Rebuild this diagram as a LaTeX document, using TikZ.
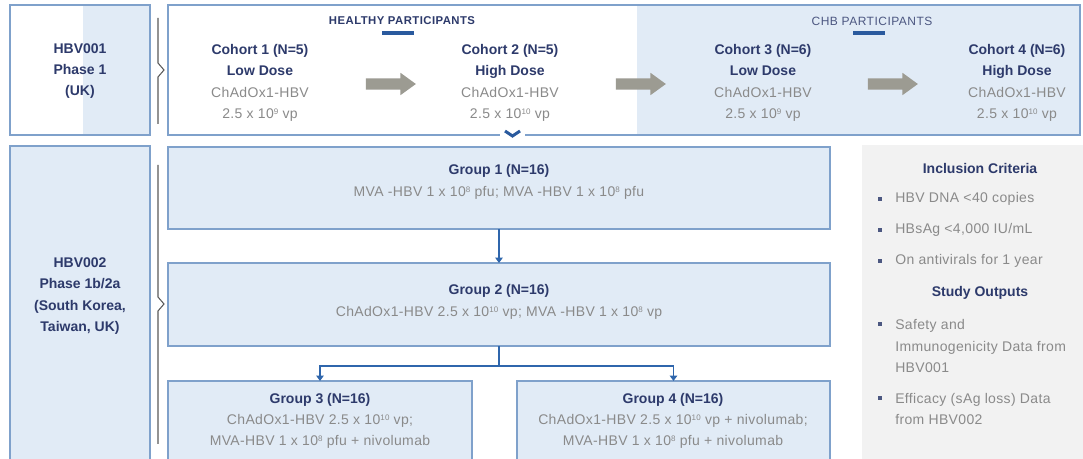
\documentclass[tikz,border=0pt]{standalone}
\usepackage{fontspec}
\setmainfont{Liberation Sans}
\newfontfamily\grayf[LetterSpace=2.5]{Liberation Sans}
\newfontfamily\capsf[LetterSpace=4]{Liberation Sans}
\usetikzlibrary{shapes.arrows,arrows.meta,calc}
\definecolor{navy}{HTML}{2D3A6B}
\definecolor{grayt}{HTML}{8A8A8A}
\definecolor{lb}{HTML}{E1EBF6}
\definecolor{bord}{HTML}{7FA1CB}
\definecolor{conn}{HTML}{2F66AC}
\definecolor{chev}{HTML}{2A5A9E}
\definecolor{arrg}{HTML}{9C9B92}
\definecolor{panel}{HTML}{F2F2F2}
\definecolor{brk}{HTML}{5A5A5A}
\newcommand\hdr[1]{{\bfseries\color{navy}#1}}
\newcommand\grt[1]{{\grayf #1}}
\newcommand\supx[1]{\raisebox{0.55ex}{\fontsize{6}{6}\selectfont #1}}
\begin{document}
\begin{tikzpicture}[x=0.75pt,y=-0.75pt,
  box/.style={draw=bord,line width=1.4pt,inner sep=0pt,outer sep=0pt,anchor=north west},
  tx/.style={align=center,font=\fontsize{10.5}{16}\selectfont,text=grayt,inner sep=0pt},
  txl/.style={align=left,anchor=west,font=\fontsize{10.5}{16}\selectfont,text=grayt,inner sep=0pt},
  garrow/.style={single arrow,fill=arrg,draw=none,minimum height=37.5pt,inner sep=4pt,
    single arrow head extend=4.2pt,single arrow tip angle=72},
  cn/.style={draw=conn,line width=1.2pt,-{Triangle[length=4pt,width=5.5pt]}},
  cnl/.style={draw=conn,line width=1.2pt},
  brace/.style={draw=brk,line width=0.8pt},
  bar/.style={fill=chev,inner sep=0pt,minimum width=24pt,minimum height=2.4pt},
  bul/.style={fill=navy!85,inner sep=0pt,minimum size=2.6pt}]
\useasboundingbox (0,0) rectangle (1083,459);
\clip (0,0) rectangle (1083,459);
\fill[white] (0,0) rectangle (1083,459);
% background fills
\fill[lb] (83,5) rectangle (150,135);
\fill[lb] (637,5) rectangle (1080,135);
% boxes
\node[box,minimum width=105pt,minimum height=97.5pt] (p1) at (10,5) {};
\node[box,minimum width=684pt,minimum height=97.5pt] (top) at (168,5) {};
\node[box,fill=lb,minimum width=105pt,minimum height=240pt] (p2) at (10,146) {};
\node[box,fill=lb,minimum width=496.5pt,minimum height=61.5pt] (g1) at (168,147) {};
\node[box,fill=lb,minimum width=496.5pt,minimum height=62.25pt] (g2) at (168,263) {};
\node[box,fill=lb,minimum width=228pt,minimum height=75pt] (g3) at (168,381) {};
\node[box,fill=lb,minimum width=234.75pt,minimum height=75pt] (g4) at (517,381) {};
\node[fill=panel,inner sep=0pt,anchor=north west,minimum width=165.75pt,minimum height=240pt] (pan) at (862,145) {};
% braces
\draw[brace] (158,18) -- (158,63) -- (164,70) -- (158,77) -- (158,124);
\draw[brace] (158,165) -- (158,297) -- (164,304) -- (158,311) -- (158,444);
% chevron
\draw[white,line width=2.2pt] (500,135) -- (525,135);
\draw[chev,line width=2.2pt] (505,131) -- (512.5,136) -- (520,131);
% phase labels
\node[tx] (t1) at (80,71) {\hdr{HBV001}\\\hdr{Phase 1}\\\hdr{(UK)}};
\node[tx] (t2) at (80,296) {\hdr{HBV002}\\\hdr{Phase 1b/2a}\\\hdr{(South Korea,}\\\hdr{Taiwan, UK)}};
% participant headers
\node[font=\capsf\bfseries\fontsize{8.5}{10}\selectfont,text=navy,inner sep=0pt] (hp) at (402,21) {HEALTHY PARTICIPANTS};
\node[bar] (hb) at (397.5,33) {};
\node[font=\capsf\fontsize{9}{10}\selectfont,text=navy!85,inner sep=0pt] (cp) at (872,21) {CHB PARTICIPANTS};
\node[bar] (cb) at (869,33) {};
% cohorts
\node[tx] (c1) at (260,83) {\hdr{Cohort 1 (N=5)}\\\hdr{Low Dose}\\\grt{ChAdOx1-HBV}\\\grt{2.5 x 10\supx{9} vp}};
\node[tx] (c2) at (510,83) {\hdr{Cohort 2 (N=5)}\\\hdr{High Dose}\\\grt{ChAdOx1-HBV}\\\grt{2.5 x 10\supx{10} vp}};
\node[tx] (c3) at (763,83) {\hdr{Cohort 3 (N=6)}\\\hdr{Low Dose}\\\grt{ChAdOx1-HBV}\\\grt{2.5 x 10\supx{9} vp}};
\node[tx] (c4) at (1017,83) {\hdr{Cohort 4 (N=6)}\\\hdr{High Dose}\\\grt{ChAdOx1-HBV}\\\grt{2.5 x 10\supx{10} vp}};
\node[garrow] (a1) at (387,84) {};
\node[garrow] (a2) at (637,84) {};
\node[garrow] (a3) at (889,84) {};
% groups
\node[tx] (g1t) at (499,182) {\hdr{Group 1 (N=16)}\\\grt{MVA -HBV 1 x 10\supx{8} pfu; MVA -HBV 1 x 10\supx{8} pfu}};
\node[tx] (g2t) at (499,302) {\hdr{Group 2 (N=16)}\\\grt{ChAdOx1-HBV 2.5 x 10\supx{10} vp; MVA -HBV 1 x 10\supx{8} vp}};
\node[tx] (g3t) at (320,421) {\hdr{Group 3 (N=16)}\\\grt{ChAdOx1-HBV 2.5 x 10\supx{10} vp;}\\\grt{MVA-HBV 1 x 10\supx{8} pfu + nivolumab}};
\node[tx] (g4t) at (673,421) {\hdr{Group 4 (N=16)}\\\grt{ChAdOx1-HBV 2.5 x 10\supx{10} vp + nivolumab;}\\\grt{MVA-HBV 1 x 10\supx{8} pfu + nivolumab}};
% connectors
\draw[cn] (g1.south) -- (g2.north);
\draw[cnl] (g2.south) -- ++(0,20) coordinate (j);
\draw[cn] (j) -| (g3.north);
\draw[cn] (j) -| (g4.north);
% side panel
\node[tx] (ic) at (980,168) {\hdr{Inclusion Criteria}};
\node[bul] (b1) at (880,199) {};
\node[txl] (i1) at (895,199) {\grt{HBV DNA <40 copies}};
\node[bul] (b2) at (880,230) {};
\node[txl] (i2) at (895,230) {\grt{HBsAg <4,000 IU/mL}};
\node[bul] (b3) at (880,261) {};
\node[txl] (i3) at (895,261) {\grt{On antivirals for 1 year}};
\node[tx] (so) at (980,293) {\hdr{Study Outputs}};
\node[bul] (b4) at (880,324) {};
\node[txl] (o1) at (895,346) {\grt{Safety and}\\\grt{Immunogenicity Data from}\\\grt{HBV001}};
\node[bul] (b5) at (880,398) {};
\node[txl] (o2) at (895,409) {\grt{Efficacy (sAg loss) Data}\\\grt{from HBV002}};
\end{tikzpicture}
\end{document}
